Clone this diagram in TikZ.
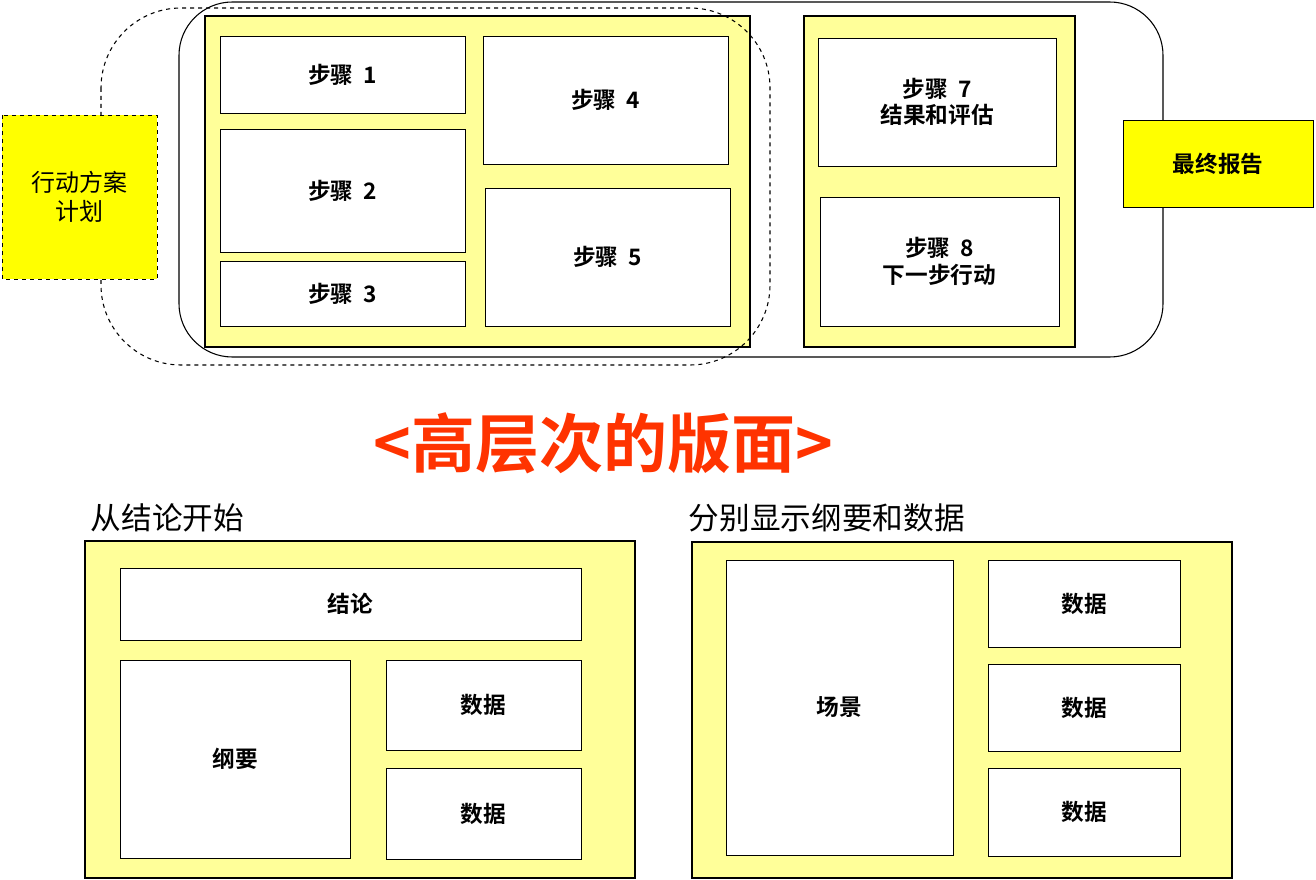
\documentclass[tikz,border=0pt]{standalone}
\usepackage{fontspec}
\newfontfamily\cjk{Noto Sans CJK SC}[BoldFont={Noto Sans CJK SC Bold}]
\begin{document}
\begin{tikzpicture}[x=0.75pt,y=-0.75pt,
  panel/.style={draw,line width=1.6pt,fill=lightyel},
  box/.style={draw,line width=0.5pt,fill=white},
  txt/.style={font=\cjk\bfseries\fontsize{17}{20}\selectfont,align=center},
  hd/.style={font=\cjk\fontsize{23}{26}\selectfont,anchor=west}]
\definecolor{lightyel}{HTML}{FFFF99}
\definecolor{brightyel}{HTML}{FFFF00}
\definecolor{titlered}{HTML}{FF3300}
\useasboundingbox (0,0) rectangle (1316,880);
\draw[line width=0.8pt,rounded corners=40] (179,2) rectangle (1163,357);
\draw[panel] (205,16) rectangle (750,347);
\draw[panel] (804,16) rectangle (1075,347);
\draw[dashed,line width=0.8pt,rounded corners=60] (101,8) rectangle (770,365);
\draw[dashed,line width=0.5pt,fill=brightyel] (2,115) rectangle node[txt,font=\cjk\fontsize{18}{22}\selectfont] (plan) {行动方案\\计划} (157,279);
\draw[box] (220,36) rectangle node[txt] (s1) {步骤\ \ 1} (465,113);
\draw[box] (220,129) rectangle node[txt] (s2) {步骤\ \ 2} (465,252);
\draw[box] (220,261) rectangle node[txt] (s3) {步骤\ \ 3} (465,326);
\draw[box] (483,36) rectangle node[txt] (s4) {步骤\ \ 4} (728,164);
\draw[box] (485,188) rectangle node[txt] (s5) {步骤\ \ 5} (730,326);
\draw[box] (818,38) rectangle node[txt] (s7) {步骤\ \ 7\\结果和评估} (1056,166);
\draw[box] (820,197) rectangle node[txt] (s8) {步骤\ \ 8\\下一步行动} (1059,326);
\draw[line width=0.5pt,fill=brightyel] (1123,120) rectangle node[txt] (rep) {最终报告} (1313,207);
\node[font=\cjk\bfseries\fontsize{48}{52}\selectfont,text=titlered] (title) at (603,443) {<高层次的版面>};
\node[hd] (h1) at (86,518) {从结论开始};
\node[hd] (h2) at (684,518) {分别显示纲要和数据};
\draw[panel] (85,541) rectangle (635,878);
\draw[box] (120,568) rectangle node[txt] (c) {结论} (581,640);
\draw[box] (120,660) rectangle node[txt] (g) {纲要} (350,858);
\draw[box] (386,660) rectangle node[txt] (d1) {数据} (581,750);
\draw[box] (386,768) rectangle node[txt] (d2) {数据} (581,859);
\draw[panel] (692,542) rectangle (1232,878);
\draw[box] (726,560) rectangle node[txt] (sc) {场景} (953,855);
\draw[box] (988,560) rectangle node[txt] (d3) {数据} (1180,647);
\draw[box] (988,664) rectangle node[txt] (d4) {数据} (1180,751);
\draw[box] (988,768) rectangle node[txt] (d5) {数据} (1180,856);
\end{tikzpicture}
\end{document}
